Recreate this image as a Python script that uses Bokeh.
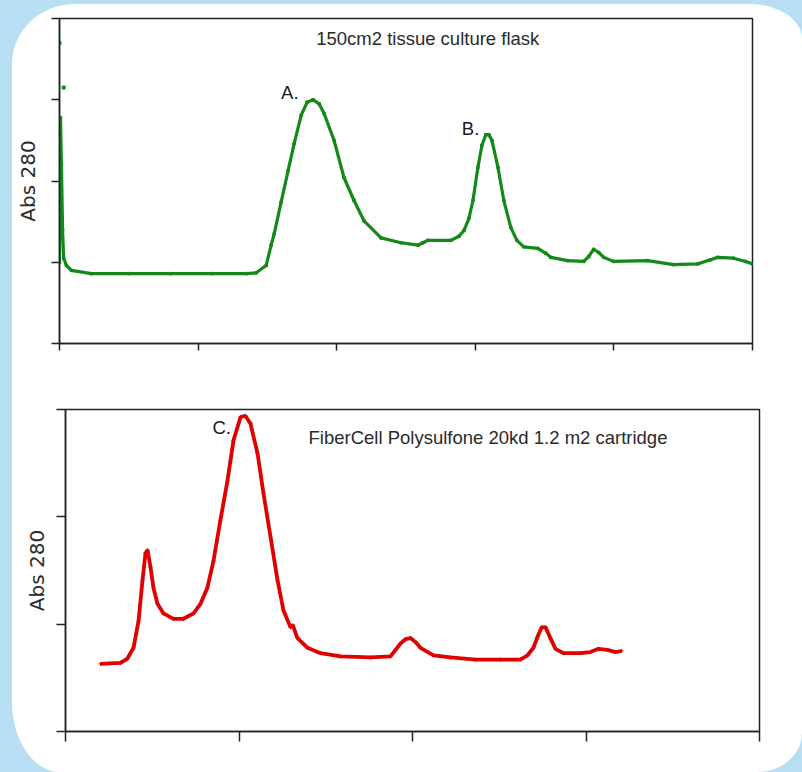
from bokeh.plotting import figure
from bokeh.models import Label, FixedTicker, Range1d
from bokeh.embed import file_html
from bokeh.resources import INLINE

# ---------------- data ----------------
# Top chart: 150cm2 tissue culture flask (Abs 280 elution profile)
flask_x = [0.000, 0.007, 0.014, 0.022, 0.030, 0.050, 0.086, 0.23, 0.50, 0.80, 1.10, 1.35,
           1.419, 1.491, 1.527, 1.549, 1.599, 1.650, 1.693, 1.744, 1.787, 1.830, 1.873, 1.909,
           1.981, 2.053, 2.125, 2.197, 2.320, 2.464, 2.586, 2.622, 2.659, 2.824, 2.882, 2.918,
           2.954, 2.983, 3.019, 3.048, 3.076, 3.098, 3.120, 3.163, 3.206, 3.256, 3.300, 3.350,
           3.451, 3.509, 3.545, 3.667, 3.782, 3.818, 3.854, 3.890, 3.927, 3.999, 4.244, 4.431,
           4.604, 4.697, 4.748, 4.863, 4.950, 5.000]
flask_y = [1.00, 2.78, 2.20, 1.40, 1.05, 0.96, 0.90, 0.86, 0.86, 0.86, 0.86, 0.86,
           0.87, 0.96, 1.21, 1.35, 1.74, 2.13, 2.46, 2.81, 2.97, 3.00, 2.95, 2.83,
           2.50, 2.04, 1.76, 1.51, 1.30, 1.24, 1.21, 1.24, 1.27, 1.27, 1.32, 1.39,
           1.54, 1.76, 2.17, 2.44, 2.57, 2.57, 2.50, 2.17, 1.76, 1.43, 1.27, 1.19,
           1.17, 1.11, 1.06, 1.02, 1.01, 1.07, 1.16, 1.12, 1.06, 1.01, 1.02, 0.97,
           0.98, 1.03, 1.06, 1.05, 1.01, 0.98]
flask_stray_x = [0.0, 0.03]
flask_stray_y = [3.70, 3.15]
flask_ticks_x = [0, 1, 2, 3, 4, 5]
flask_ticks_y = [0, 1, 2, 3, 4]

# Bottom chart: FiberCell Polysulfone 20kd 1.2 m2 cartridge
cart_x = [0.202, 0.317, 0.357, 0.392, 0.421, 0.444, 0.461, 0.473, 0.490, 0.507, 0.530, 0.565,
          0.622, 0.680, 0.738, 0.778, 0.818, 0.853, 0.893, 0.934, 0.968, 1.009, 1.037, 1.066,
          1.107, 1.141, 1.182, 1.222, 1.256, 1.297, 1.310, 1.337, 1.395, 1.470, 1.585, 1.758,
          1.873, 1.931, 1.960, 1.988, 2.020, 2.046, 2.121, 2.219, 2.363, 2.507, 2.622, 2.663,
          2.697, 2.720, 2.744, 2.767, 2.795, 2.824, 2.870, 2.968, 3.026, 3.072, 3.124, 3.170,
          3.205]
cart_y = [0.63, 0.64, 0.68, 0.78, 1.03, 1.41, 1.66, 1.69, 1.53, 1.34, 1.19, 1.10,
          1.05, 1.05, 1.10, 1.19, 1.34, 1.59, 1.97, 2.34, 2.71, 2.93, 2.94, 2.87,
          2.59, 2.22, 1.81, 1.41, 1.13, 0.97, 0.99, 0.87, 0.78, 0.73, 0.70, 0.69,
          0.70, 0.82, 0.86, 0.87, 0.83, 0.78, 0.71, 0.69, 0.67, 0.67, 0.67, 0.71,
          0.78, 0.88, 0.97, 0.97, 0.87, 0.77, 0.73, 0.73, 0.74, 0.77, 0.76, 0.74,
          0.75]
cart_ticks_x = [0, 1, 2, 3, 4]
cart_ticks_y = [0, 1, 2, 3]

flask_title = "150cm2 tissue culture flask"
cart_title = "FiberCell Polysulfone 20kd 1.2 m2 cartridge"
flask_peak_labels = ["A.", "B."]
flask_peak_x = [1.599, 2.903]
flask_peak_y = [2.954, 2.523]
cart_peak_labels = ["C."]
cart_peak_x = [0.847]
cart_peak_y = [2.739]

GREEN = "#13891a"
RED = "#e00000"
INK = "#222222"
TEXT_FONT = "Liberation Sans"


def style(p, xt, yt, xtick_out, ytick_out, label_standoff):
    # unlabeled ticks: drawn as minor ticks of a fixed ticker (no tick texts)
    p.xaxis.ticker = FixedTicker(ticks=[], minor_ticks=xt)
    p.yaxis.ticker = FixedTicker(ticks=[], minor_ticks=yt)
    for ax, out in ((p.xaxis, xtick_out), (p.yaxis, ytick_out)):
        ax.major_tick_out = out
        ax.major_tick_in = 0
        ax.minor_tick_out = out
        ax.minor_tick_in = 0
        ax.minor_tick_line_color = INK
        ax.minor_tick_line_width = 1.5
        ax.axis_line_color = INK
        ax.axis_line_width = 1.5
        ax.major_label_standoff = 0
    p.yaxis.axis_label = "Abs 280"
    p.yaxis.axis_label_text_font = "DejaVu Sans"
    p.yaxis.axis_label_text_font_size = "20px"
    p.yaxis.axis_label_text_font_style = "normal"
    p.yaxis.axis_label_text_color = "#2a2a2a"
    p.yaxis.axis_label_standoff = label_standoff
    p.xgrid.grid_line_color = None
    p.ygrid.grid_line_color = None
    p.outline_line_color = INK
    p.outline_line_width = 1.5
    p.border_fill_color = None
    p.background_fill_color = None


# ---------------- top chart ----------------
p1 = figure(width=790, height=376, output_backend="svg", toolbar_location=None,
            x_range=Range1d(0, 5), y_range=Range1d(0, 4),
            min_border_left=46, min_border_right=50, min_border_top=14, min_border_bottom=37)
style(p1, flask_ticks_x, flask_ticks_y, 7, 8, 12)
p1.line(flask_x, flask_y, line_color=GREEN, line_width=3.2)
p1.scatter(flask_x, flask_y, marker="square", size=2.5, color=GREEN)
p1.scatter(flask_stray_x, flask_stray_y, marker="square", size=3, color=GREEN)
p1.add_layout(Label(x=1.852, y=3.63, text=flask_title, text_font=TEXT_FONT,
                    text_font_size="18.5px", text_color="#2a2a2a"))
for t, x, y in zip(flask_peak_labels, flask_peak_x, flask_peak_y):
    p1.add_layout(Label(x=x, y=y, text=t, text_font=TEXT_FONT,
                        text_font_size="18.5px", text_color="#1a1a1a"))

# ---------------- bottom chart ----------------
p2 = figure(width=790, height=392, output_backend="svg", toolbar_location=None,
            x_range=Range1d(0, 4), y_range=Range1d(0, 3),
            min_border_left=53, min_border_right=43, min_border_top=29, min_border_bottom=41)
style(p2, cart_ticks_x, cart_ticks_y, 10, 9, 8)
p2.line(cart_x, cart_y, line_color=RED, line_width=3.8)
p2.scatter(cart_x, cart_y, marker="cross", size=4, color=RED)
p2.add_layout(Label(x=1.401, y=2.637, text=cart_title, text_font=TEXT_FONT,
                    text_font_size="18.5px", text_color="#2a2a2a"))
for t, x, y in zip(cart_peak_labels, cart_peak_x, cart_peak_y):
    p2.add_layout(Label(x=x, y=y, text=t, text_font=TEXT_FONT,
                        text_font_size="18.5px", text_color="#1a1a1a"))

# The two charts are separate roots (so their frames are not forced into
# alignment); the page body is the white rounded panel on a light-blue page.
css = ("<style>"
       "html{margin:0;padding:0;overflow:hidden;background:#b8def3;}"
       "body{margin:4px 0 0 12px;padding:0;width:790px;height:768px;overflow:hidden;"
       "background:#ffffff;border-radius:63px 52px 45px 48px / 60px 35px 39px 70px;}"
       "</style>")
html = file_html([p1, p2], INLINE, title="Abs 280 profiles")
html = html.replace("</head>", css + "</head>", 1)
open("out.html", "w").write(html)
